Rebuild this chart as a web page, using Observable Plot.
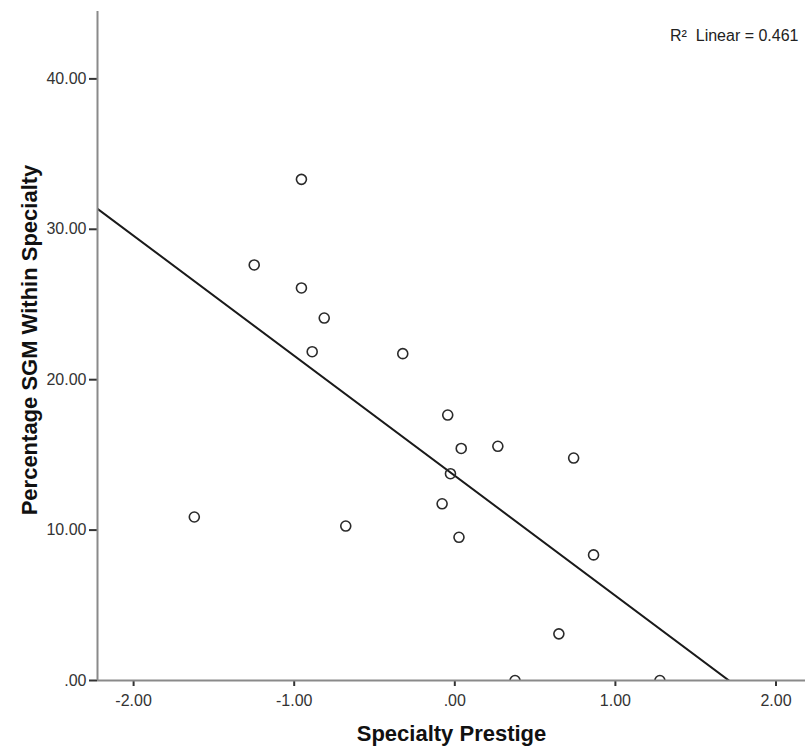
<!DOCTYPE html>
<html>
<head>
<meta charset="utf-8">
<script src="https://cdn.jsdelivr.net/npm/d3@7"></script>
<script src="https://cdn.jsdelivr.net/npm/@observablehq/plot@0.6"></script>
<style>
  html, body { margin: 0; padding: 0; background: #fff; }
  #chart svg { display: block; }
</style>
</head>
<body>
<div id="chart"></div>
<script>
// Data
const specialtyPrestige = [-0.955, -1.249, -0.955, -0.813, -0.888, -0.324, -0.044, 0.040, 0.268,
  -1.622, -0.679, 0.740, -0.027, -0.079, 0.026, 0.864, 0.648, 0.375, 1.277];
const percentageSGM = [33.32, 27.63, 26.10, 24.10, 21.86, 21.73, 17.65, 15.43, 15.57,
  10.87, 10.27, 14.79, 13.75, 11.75, 9.52, 8.35, 3.10, 0, 0];
const xTicks = [-2, -1, 0, 1, 2];
const yTicks = [0, 10, 20, 30, 40];
const xTitle = "Specialty Prestige";
const yTitle = "Percentage SGM Within Specialty";
const fitLabel = "R\u00B2\u00A0 Linear = 0.461";

const xDomain = [-2.2248, 2.1837];
const yDomain = [0, 44.48];

const locale = d3.formatLocale({decimal: ".", thousands: ",", grouping: [3], currency: ["$", ""], minus: "-"});
const f2 = locale.format(".2f");
const fmt = d => d === 0 ? ".00" : f2(d);

const data = specialtyPrestige.map((x, i) => ({x, y: percentageSGM[i]}));

// least squares fit from the data
const mx = d3.mean(data, d => d.x), my = d3.mean(data, d => d.y);
const sxy = d3.sum(data, d => (d.x - mx) * (d.y - my));
const sxx = d3.sum(data, d => (d.x - mx) ** 2);
const slope = sxy / sxx, intercept = my - slope * mx;
const fitLine = xDomain.map(x => ({x, y: intercept + slope * x}));

const axisColor = "#8a8a8a";
const font = "'Liberation Sans', Arial, sans-serif";

const chart = Plot.plot({
  width: 805,
  height: 753,
  marginLeft: 97,
  marginRight: 0,
  marginTop: 11,
  marginBottom: 73,
  style: {fontFamily: font, background: "#fff", overflow: "visible"},
  x: {domain: xDomain, label: null},
  y: {domain: yDomain, label: null},
  marks: [
    Plot.axisX({ticks: xTicks, tickFormat: fmt, tickSize: 6, tickPadding: 8, fontSize: 16,
      fill: "#333", stroke: "#333", strokeWidth: 2, label: null}),
    Plot.axisY({ticks: yTicks, tickFormat: fmt, tickSize: 8, tickPadding: 3, fontSize: 16,
      fill: "#333", stroke: "#333", strokeWidth: 2, label: null}),
    Plot.line(fitLine, {x: "x", y: "y", stroke: "#1a1a1a", strokeWidth: 2, clip: true}),
    Plot.dot(data, {x: "x", y: "y", r: 5, stroke: "#2a2a2a", strokeWidth: 1.6, fill: "none", clip: true}),
    Plot.ruleX([xDomain[0]], {stroke: axisColor, strokeWidth: 2}),
    Plot.ruleY([0], {stroke: axisColor, strokeWidth: 2}),
    Plot.text([yTitle], {frameAnchor: "left", dx: -68, dy: -6, rotate: -90, fontSize: 22, fontWeight: "bold",
      fill: "#111", textAnchor: "middle", lineAnchor: "middle"}),
    Plot.text([xTitle], {frameAnchor: "bottom", dy: 53, fontSize: 22, fontWeight: "bold",
      fill: "#111", textAnchor: "middle", lineAnchor: "middle"}),
    Plot.text([fitLabel], {frameAnchor: "top-right", dx: -7, dy: 24, fontSize: 16,
      fill: "#222", textAnchor: "end", lineAnchor: "middle"})
  ]
});

document.getElementById("chart").appendChild(chart);
</script>
</body>
</html>
